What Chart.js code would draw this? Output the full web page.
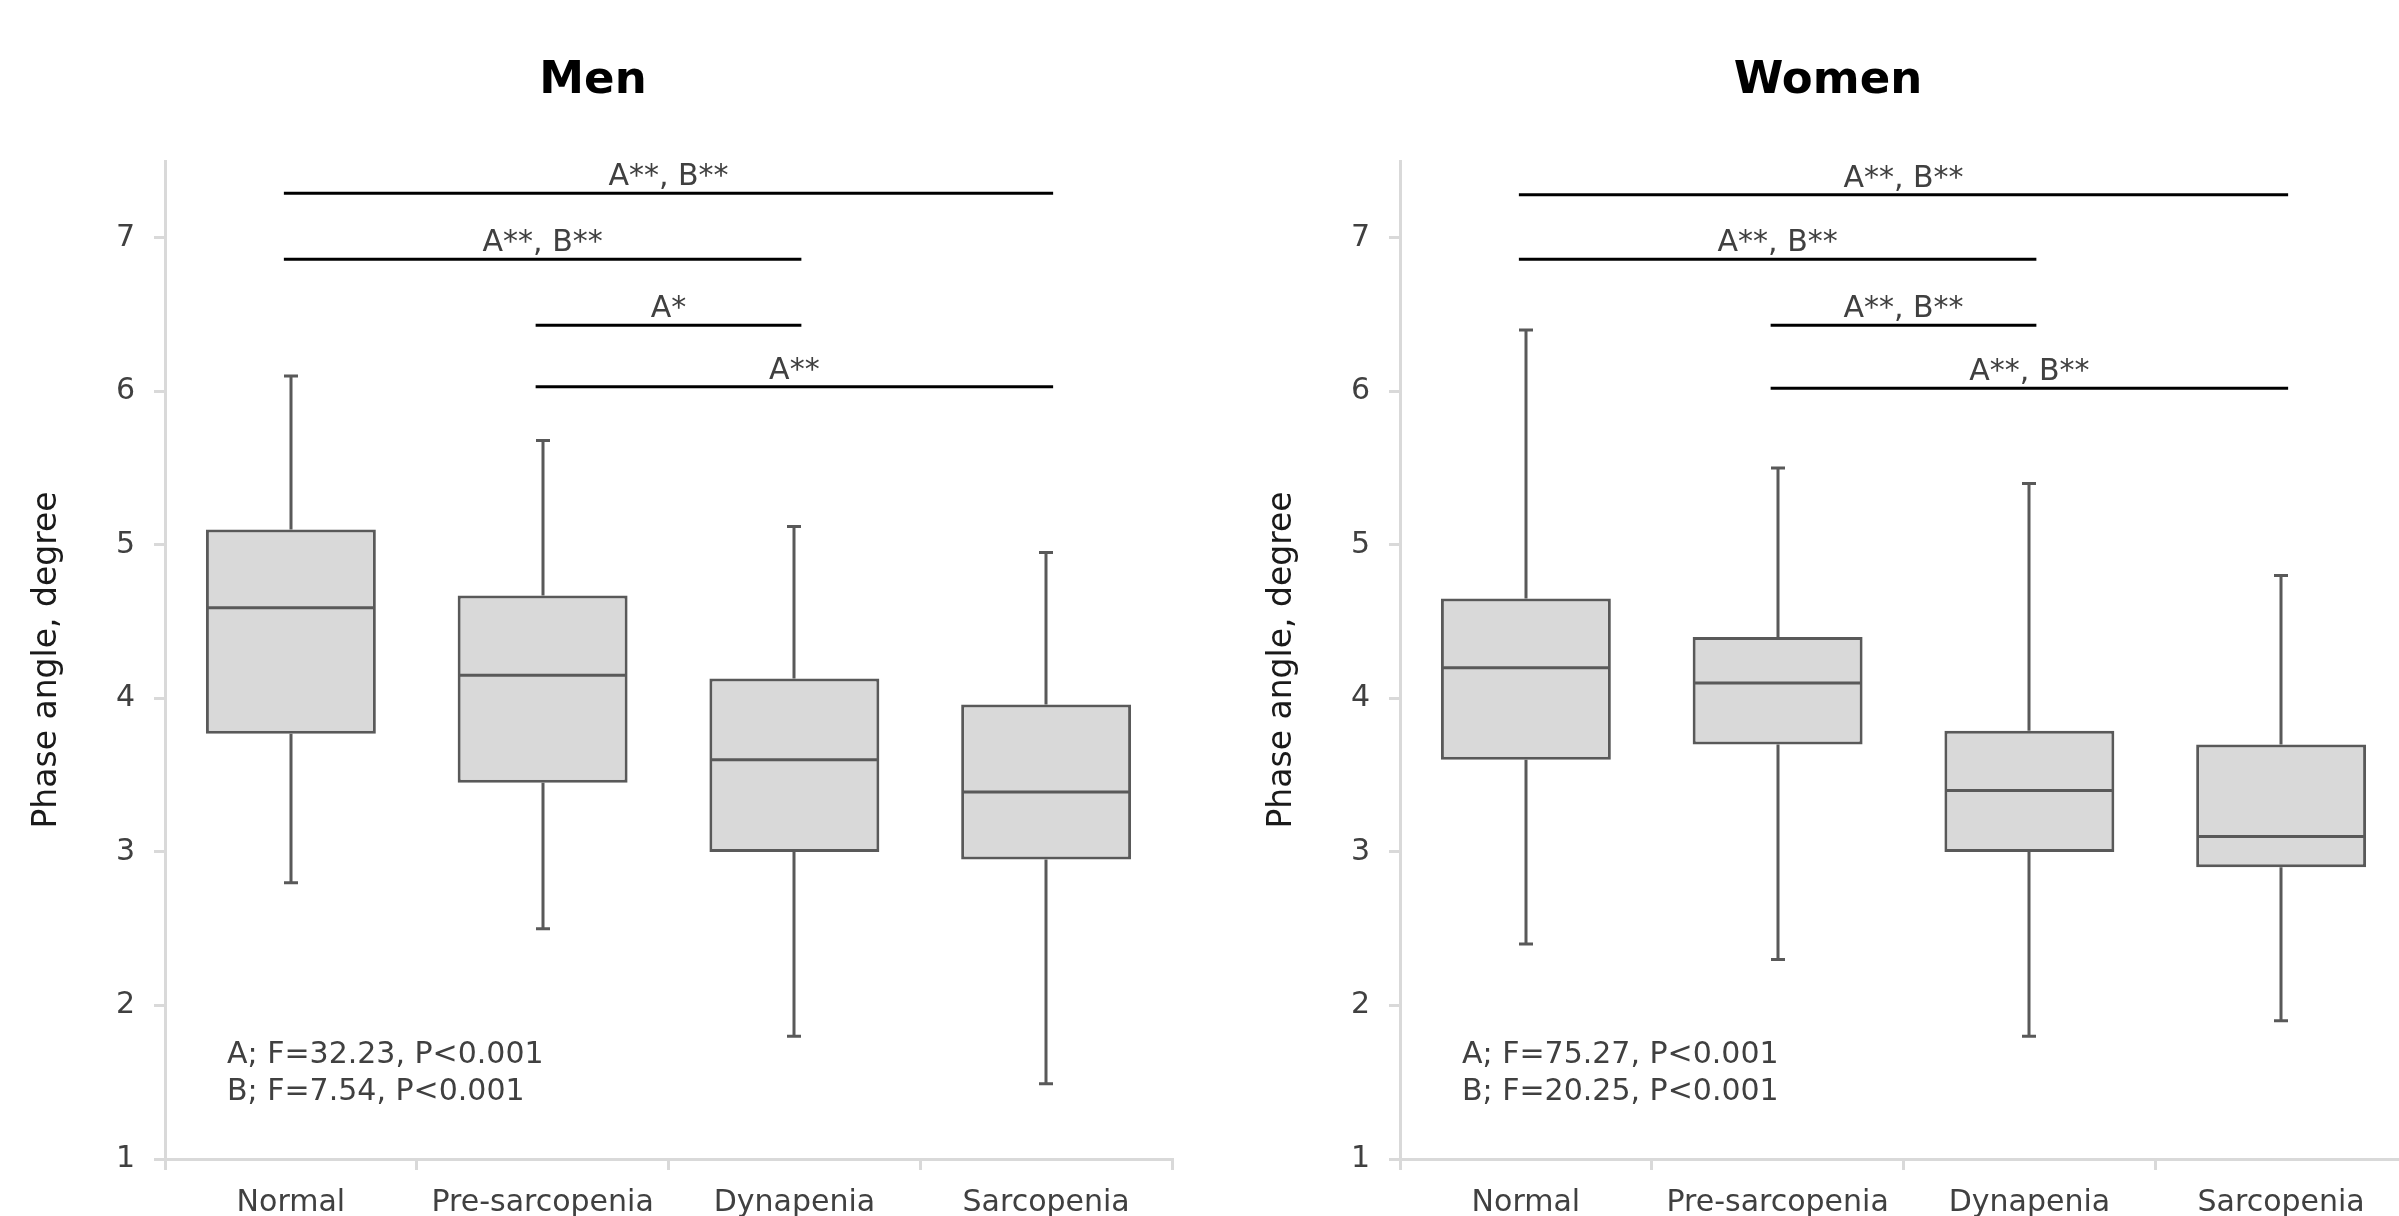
<!DOCTYPE html>
<html>
<head>
<meta charset="utf-8">
<script src="https://cdn.jsdelivr.net/npm/chart.js@4.4.0/dist/chart.umd.min.js"></script>
<style>
  html, body { margin: 0; padding: 0; background: #fff; overflow: hidden; width: 2399px; height: 1216px; }
  canvas { position: absolute; top: 0; }
  #men { left: 0; }
  #women { left: 1235px; }
</style>
</head>
<body>
<canvas id="men" width="1186" height="1216"></canvas>
<canvas id="women" width="1186" height="1216"></canvas>
<script>
const categories = ['Normal', 'Pre-sarcopenia', 'Dynapenia', 'Sarcopenia'];
const yTicks = [1, 2, 3, 4, 5, 6, 7];

// Men
const menMin    = [2.80, 2.50, 1.80, 1.49];
const menQ1     = [3.77, 3.45, 3.00, 2.95];
const menMedian = [4.59, 4.15, 3.60, 3.39];
const menQ3     = [5.10, 4.67, 4.13, 3.96];
const menMax    = [6.10, 5.68, 5.12, 4.95];
const menSigFrom = [0, 0, 1, 1];
const menSigTo   = [3, 2, 2, 3];
const menSigY    = [7.29, 6.86, 6.43, 6.03];
const menSigText = ['A**, B**', 'A**, B**', 'A*', 'A**'];
const menStats   = ['A; F=32.23, P<0.001', 'B; F=7.54, P<0.001'];

// Women
const womenMin    = [2.40, 2.30, 1.80, 1.90];
const womenQ1     = [3.60, 3.70, 3.00, 2.90];
const womenMedian = [4.20, 4.10, 3.40, 3.10];
const womenQ3     = [4.65, 4.40, 3.79, 3.70];
const womenMax    = [6.40, 5.50, 5.40, 4.80];
const womenSigFrom = [0, 0, 1, 1];
const womenSigTo   = [3, 2, 2, 3];
const womenSigY    = [7.28, 6.86, 6.43, 6.02];
const womenSigText = ['A**, B**', 'A**, B**', 'A**, B**', 'A**, B**'];
const womenStats   = ['A; F=75.27, P<0.001', 'B; F=20.25, P<0.001'];

const FONT = "'DejaVu Sans', Verdana, sans-serif";
Chart.defaults.font.family = FONT;

// whiskers, medians, significance bars and the F-test note
const boxExtras = {
  id: 'boxExtras',
  afterDatasetsDraw(chart, args, o) {
    const { ctx, chartArea } = chart;
    const xs = chart.scales.x, ys = chart.scales.y;
    const bars = chart.getDatasetMeta(0).data;
    ctx.save();
    ctx.strokeStyle = '#595959';
    ctx.lineWidth = 3;
    ctx.lineCap = 'butt';
    o.median.forEach((m, i) => {
      const cx = Math.round(xs.getPixelForValue(i));
      const half = bars[i].width / 2;
      const yMax = ys.getPixelForValue(o.max[i]);
      const yMin = ys.getPixelForValue(o.min[i]);
      const yMed = ys.getPixelForValue(m);
      ctx.beginPath();
      ctx.moveTo(cx, ys.getPixelForValue(o.q3[i])); ctx.lineTo(cx, yMax);
      ctx.moveTo(cx, ys.getPixelForValue(o.q1[i])); ctx.lineTo(cx, yMin);
      ctx.moveTo(cx - 7, yMax); ctx.lineTo(cx + 7, yMax);
      ctx.moveTo(cx - 7, yMin); ctx.lineTo(cx + 7, yMin);
      ctx.moveTo(cx - half + 2, yMed); ctx.lineTo(cx + half - 2, yMed);
      ctx.stroke();
    });

    ctx.strokeStyle = '#000';
    ctx.fillStyle = '#404040';
    ctx.font = '30px ' + FONT;
    ctx.textAlign = 'center';
    ctx.textBaseline = 'alphabetic';
    o.sigY.forEach((v, k) => {
      const x1 = xs.getPixelForValue(o.sigFrom[k]) - 7;
      const x2 = xs.getPixelForValue(o.sigTo[k]) + 7;
      const yy = ys.getPixelForValue(v);
      ctx.beginPath();
      ctx.moveTo(x1, yy); ctx.lineTo(x2, yy);
      ctx.stroke();
      ctx.fillText(o.sigText[k], (x1 + x2) / 2, yy - 8);
    });

    ctx.textAlign = 'left';
    ctx.fillText(o.stats[0], chartArea.left + 62, chartArea.bottom - 96);
    ctx.fillText(o.stats[1], chartArea.left + 62, chartArea.bottom - 59);
    ctx.restore();
  }
};

function makeChart(id, title, q1, med, q3, mn, mx, sigFrom, sigTo, sigY, sigText, stats) {
  return new Chart(document.getElementById(id), {
    type: 'bar',
    data: {
      labels: categories,
      datasets: [{
        data: q1.map((v, i) => [v, q3[i]]),
        backgroundColor: '#d9d9d9',
        borderColor: '#595959',
        borderWidth: 3,
        borderSkipped: false,
        barPercentage: 0.675,
        categoryPercentage: 1
      }]
    },
    options: {
      responsive: false,
      animation: false,
      events: [],
      layout: { padding: { left: 14, right: 14, top: 0, bottom: 0 } },
      plugins: {
        legend: { display: false },
        tooltip: { enabled: false },
        title: {
          display: true,
          text: title,
          color: '#000',
          font: { size: 45, weight: 'bold', family: FONT },
          padding: { top: 54, bottom: 53 }
        },
        boxExtras: { median: med, q1, q3, min: mn, max: mx, sigFrom, sigTo, sigY, sigText, stats }
      },
      scales: {
        x: {
          type: 'category',
          offset: true,
          grid: { offset: true, drawOnChartArea: false, drawTicks: true, tickLength: 11, color: '#d9d9d9', lineWidth: 3 },
          border: { color: '#d9d9d9', width: 3 },
          ticks: { color: '#404040', font: { size: 30 }, padding: 15, maxRotation: 0 },
          afterFit: s => { s.height = 57; }
        },
        y: {
          min: 1,
          max: 7.5,
          afterBuildTicks: s => { s.ticks = yTicks.map(v => ({ value: v })); },
          ticks: { stepSize: 1, includeBounds: false, color: '#404040', font: { size: 30 }, padding: 19 },
          grid: { drawOnChartArea: false, drawTicks: true, tickLength: 11, color: '#d9d9d9', lineWidth: 3 },
          border: { color: '#d9d9d9', width: 3 },
          title: {
            display: true,
            text: 'Phase angle, degree',
            color: '#1a1a1a',
            font: { size: 33, family: FONT },
            padding: { top: 14, bottom: 0 }
          },
          afterFit: s => { s.width = 151; }
        }
      }
    },
    plugins: [boxExtras]
  });
}

makeChart('men', 'Men', menQ1, menMedian, menQ3, menMin, menMax,
  menSigFrom, menSigTo, menSigY, menSigText, menStats);
makeChart('women', 'Women', womenQ1, womenMedian, womenQ3, womenMin, womenMax,
  womenSigFrom, womenSigTo, womenSigY, womenSigText, womenStats);
</script>
</body>
</html>
